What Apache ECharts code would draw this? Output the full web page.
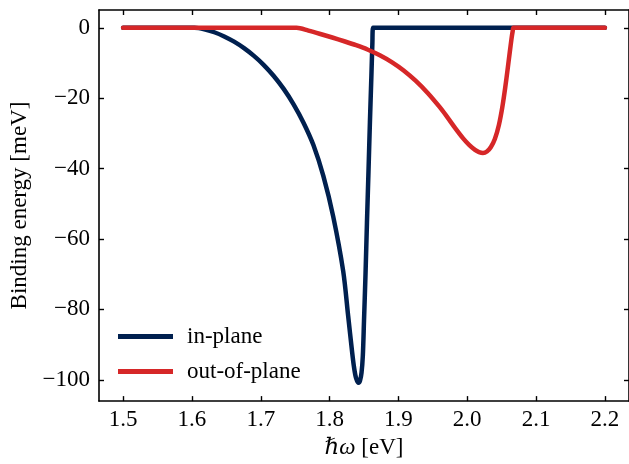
<!DOCTYPE html>
<html>
<head>
<meta charset="utf-8">
<script src="https://cdn.jsdelivr.net/npm/echarts@6/dist/echarts.min.js"></script>
<style>
  html, body { margin: 0; padding: 0; background: #ffffff; }
  #chart { width: 629px; height: 464px; }
</style>
</head>
<body>
<div id="chart"></div>
<script>
// Photon energy (eV) and binding energy (meV) for the in-plane component
const inPlaneX = [1.50, 1.59, 1.6037, 1.6181, 1.6325, 1.6469, 1.6613, 1.6757, 1.6901, 1.7045, 1.7189,
  1.7333, 1.7477, 1.7621, 1.7765, 1.7909, 1.8053, 1.8198, 1.8270, 1.8327, 1.8356, 1.8385,
  1.8421, 1.8442, 1.8464, 1.8483, 1.8500, 1.8522, 1.8543, 1.8565, 1.8586, 1.8608, 1.8622,
  1.8632, 1.870, 2.20];
const inPlaneY = [0, 0, 0, -0.42, -1.27, -2.46, -3.95, -5.79, -7.99, -10.59, -13.69,
  -17.36, -21.74, -26.96, -33.31, -42.07, -53.64, -69.17, -81.87, -92.04, -96.56, -99.52,
  -100.85, -100.23, -97.97, -93.17, -83.29, -70.02, -55.34, -40.94, -26.82, -13.27, -4.23,
  0, 0, 0];

// Out-of-plane component
const outPlaneX = [1.50, 1.74, 1.7521, 1.7693, 1.7866, 1.8039, 1.8212, 1.8385, 1.8558, 1.8730, 1.8903,
  1.9076, 1.9249, 1.9422, 1.9595, 1.9710, 1.9825, 1.9940, 2.0027, 2.0113, 2.0171, 2.0228,
  2.0286, 2.0344, 2.0401, 2.0459, 2.0509, 2.0552, 2.0588, 2.0617, 2.0643, 2.0660, 2.0672,
  2.075, 2.20];
const outPlaneY = [0, 0, 0, -0.81, -1.76, -2.77, -3.83, -4.95, -6.23, -7.80, -9.75,
  -12.13, -15.04, -18.45, -22.42, -25.38, -28.51, -31.42, -33.26, -34.69, -35.30, -35.57,
  -35.15, -33.88, -31.62, -27.67, -22.59, -16.94, -11.58, -7.06, -3.11, -0.99, 0,
  0, 0];

const seriesNames = ['in-plane', 'out-of-plane'];
const xTicks = [1.5, 1.6, 1.7, 1.8, 1.9, 2.0, 2.1, 2.2];
const yTicks = [-100, -80, -60, -40, -20, 0];

const FONT = '"Liberation Serif", "DejaVu Serif", serif';
const FS = 23;
const NAVY = '#00204f';
const RED = '#d62728';

const pairs = (xs, ys) => xs.map((x, i) => [x, ys[i]]);
const fmtY = v => (v < 0 ? '\u2212' + Math.abs(v) : String(v));

const spine = { show: true, onZero: false, lineStyle: { color: '#000', width: 1.6 } };
const tickStyle = { show: true, inside: true, length: 5, lineStyle: { color: '#000', width: 1.4 } };

const xBase = { type: 'value', min: 1.465, max: 2.235, splitLine: { show: false }, axisLine: spine };
const yBase = { type: 'value', min: -106.05, max: 5.05, splitLine: { show: false }, axisLine: spine };

const chart = echarts.init(document.getElementById('chart'), null, { renderer: 'canvas' });
chart.setOption({
  animation: false,
  backgroundColor: '#ffffff',
  grid: { left: 99, top: 10, width: 534, height: 395, containLabel: false },
  xAxis: [
    Object.assign({}, xBase, {
      position: 'bottom',
      axisTick: Object.assign({}, tickStyle, { customValues: xTicks }),
      axisLabel: { customValues: xTicks, margin: 7, color: '#000', fontFamily: FONT, fontSize: FS,
        formatter: v => v.toFixed(1) },
      name: '{i|\u210F\u03C9}{t| [eV]}',
      nameLocation: 'middle',
      nameGap: 30,
      nameTextStyle: { color: '#000', fontFamily: FONT, fontSize: FS,
        rich: {
          i: { fontStyle: 'italic', fontFamily: FONT, fontSize: FS, color: '#000' },
          t: { fontFamily: FONT, fontSize: FS, color: '#000' }
        } }
    }),
    Object.assign({}, xBase, {
      position: 'top',
      axisTick: Object.assign({}, tickStyle, { customValues: xTicks }),
      axisLabel: { show: false }
    })
  ],
  yAxis: [
    Object.assign({}, yBase, {
      position: 'left',
      axisTick: Object.assign({}, tickStyle, { customValues: yTicks }),
      axisLabel: { customValues: yTicks, margin: 9, color: '#000', fontFamily: FONT, fontSize: FS,
        formatter: fmtY },
      name: 'Binding energy [meV]',
      nameLocation: 'middle',
      nameGap: 68,
      nameTextStyle: { color: '#000', fontFamily: FONT, fontSize: FS }
    }),
    Object.assign({}, yBase, {
      position: 'right',
      axisTick: Object.assign({}, tickStyle, { customValues: yTicks }),
      axisLabel: { show: false }
    })
  ],
  legend: {
    orient: 'vertical',
    left: 118,
    top: 325,
    padding: 0,
    itemWidth: 55,
    itemHeight: 5,
    itemGap: 12,
    icon: 'rect',
    textStyle: { color: '#000', fontFamily: FONT, fontSize: FS, padding: [0, 0, 0, 9] },
    data: seriesNames
  },
  series: [
    {
      name: seriesNames[0], type: 'line', xAxisIndex: 0, yAxisIndex: 0,
      data: pairs(inPlaneX, inPlaneY), showSymbol: false, symbol: 'none',
      smooth: 0.3,
      lineStyle: { color: NAVY, width: 4.5, join: 'round', cap: 'round' }, itemStyle: { color: NAVY }
    },
    {
      name: seriesNames[1], type: 'line', xAxisIndex: 0, yAxisIndex: 0,
      data: pairs(outPlaneX, outPlaneY), showSymbol: false, symbol: 'none',
      smooth: 0.3,
      lineStyle: { color: RED, width: 4.5, join: 'round', cap: 'round' }, itemStyle: { color: RED }
    }
  ]
});
</script>
</body>
</html>
